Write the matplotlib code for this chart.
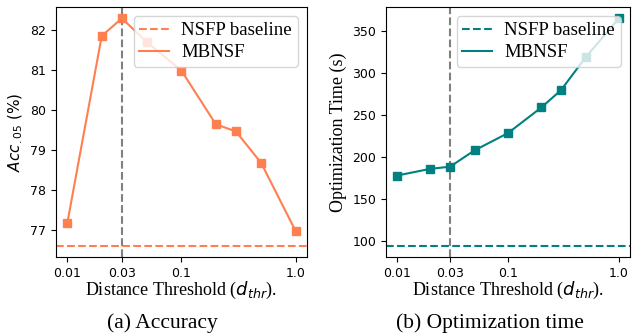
import numpy as np
import matplotlib
matplotlib.use("Agg")
import matplotlib.pyplot as plt
from matplotlib.ticker import FixedLocator, FixedFormatter, NullLocator

# distance thresholds (log axis)
thresholds = [0.01, 0.02, 0.03, 0.05, 0.1, 0.2, 0.3, 0.5, 1.0]
acc = [77.19, 81.86, 82.30, 81.70, 80.99, 79.65, 79.47, 78.68, 76.98]
opt_time = [177.5, 185.5, 188.0, 207.5, 228.0, 258.5, 279.0, 318.0, 364.5]
acc_baseline = 76.61
time_baseline = 94.0
chosen = 0.03
xticks = [0.01, 0.03, 0.1, 1.0]
xticklabels = ["0.01", "0.03", "0.1", "1.0"]

serif = ["Liberation Serif", "DejaVu Serif"]
orange = "#ff7f50"
teal = "#008080"

fig = plt.figure(figsize=(6.37, 3.33), dpi=100)
ax1 = fig.add_axes([0.0879, 0.228, 0.394, 0.751])
ax2 = fig.add_axes([0.606, 0.228, 0.383, 0.751])


def draw(ax, y, base, color):
    ax.axhline(base, color=color, linestyle="--", linewidth=1.5, label="NSFP baseline")
    ax.axvline(chosen, color="gray", linestyle="--", linewidth=1.5)
    ax.plot(thresholds, y, color=color, linewidth=1.5, label="MBNSF")
    ax.plot(thresholds, y, color=color, linestyle="none", marker="s", markersize=6.3)
    ax.set_xscale("log")
    ax.xaxis.set_major_locator(FixedLocator(xticks))
    ax.xaxis.set_major_formatter(FixedFormatter(xticklabels))
    ax.xaxis.set_minor_locator(NullLocator())
    ax.tick_params(labelsize=9)
    ax.set_xlabel(r"Distance Threshold ($d_{thr}$).", fontsize=13, family=serif, labelpad=0)
    ax.legend(loc="upper right", prop={"family": serif, "size": 13.5}, labelspacing=0.27,
              borderpad=0.3, handlelength=1.6, handletextpad=0.65, borderaxespad=0.5)


draw(ax1, acc, acc_baseline, orange)
ax1.set_yticks([77, 78, 79, 80, 81, 82])
ax1.set_ylabel(r"$Acc_{.05}$ (%)", fontsize=11)

draw(ax2, opt_time, time_baseline, teal)
ax2.set_yticks([100, 150, 200, 250, 300, 350])
ax2.set_ylabel("Optimization Time (s)", fontsize=13, family=serif, labelpad=4)

fig.text(162 / 637, 1 - 323 / 333, "(a) Accuracy", ha="center", va="center", fontsize=15.5, family=serif)
fig.text(490 / 637, 1 - 323 / 333, "(b) Optimization time", ha="center", va="center", fontsize=15.5, family=serif)

fig.savefig("out.png", dpi=100)
